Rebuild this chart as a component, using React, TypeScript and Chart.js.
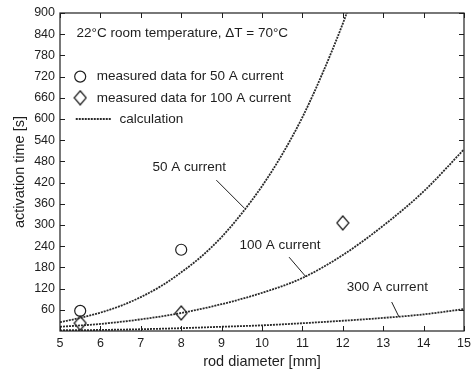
import React, { useEffect, useRef } from "react";
import { Chart, registerables } from "chart.js";
Chart.register(...registerables);

// Calculated curves
const curve50X = [5, 5.5, 6, 6.5, 7, 7.5, 8, 8.5, 9, 9.5, 10, 10.5, 11, 11.5, 12, 12.5];
const curve50Y = [25, 37, 52, 71, 96, 127, 166, 211, 266, 333, 410, 500, 605, 730, 870, 1030];
const curveX = [5, 6, 7, 8, 9, 10, 11, 12, 13, 14, 15];
const curve100Y = [12, 20, 33, 51, 76, 108, 150, 215, 298, 395, 514];
const curve300Y = [2, 3, 5, 8, 12, 16, 22, 29, 37, 47, 62];
// Measured data
const meas50X = [5.5, 8];
const meas50Y = [57, 230];
const meas100X = [5.5, 8, 12];
const meas100Y = [22, 51, 306];
// Ticks
const xTickValues = [5, 6, 7, 8, 9, 10, 11, 12, 13, 14, 15];
const yTickValues = [60, 120, 180, 240, 300, 360, 420, 480, 540, 600, 660, 720, 780, 840, 900];

const FONT = '"Liberation Sans", Arial, sans-serif';
const INK = "#1e1e1e";
const LINE = "#2a2a2a";
const DASH = [2, 1];

function makeDiamond(): HTMLCanvasElement {
  const c = document.createElement("canvas");
  c.width = 14;
  c.height = 16;
  const g = c.getContext("2d")!;
  g.strokeStyle = INK;
  g.lineWidth = 1.2;
  g.beginPath();
  g.moveTo(7, 1);
  g.lineTo(13, 8);
  g.lineTo(7, 15);
  g.lineTo(1, 8);
  g.closePath();
  g.stroke();
  return c;
}

export default function App() {
  const ref = useRef<HTMLCanvasElement | null>(null);

  useEffect(() => {
    document.body.style.margin = "0";
    document.body.style.background = "#fff";
    const diamond = makeDiamond();

    const toXY = (xs: number[], ys: number[]) => xs.map((x, i) => ({ x, y: ys[i] }));

    const overlay = {
      id: "overlay",
      afterDraw(chart: any) {
        const ctx = chart.ctx as CanvasRenderingContext2D;
        const a = chart.chartArea;
        const xs = chart.scales.x;
        const ys = chart.scales.y;
        const px = (v: number) => xs.getPixelForValue(v);
        const py = (v: number) => ys.getPixelForValue(v);
        ctx.save();
        // frame
        ctx.strokeStyle = INK;
        ctx.lineWidth = 1.2;
        ctx.strokeRect(a.left, a.top, a.right - a.left, a.bottom - a.top);
        // inward ticks
        ctx.lineWidth = 1;
        ctx.beginPath();
        xTickValues.forEach((v) => {
          const x = Math.round(px(v)) + 0.5;
          ctx.moveTo(x, a.bottom);
          ctx.lineTo(x, a.bottom - 5);
          ctx.moveTo(x, a.top);
          ctx.lineTo(x, a.top + 5);
        });
        yTickValues.forEach((v) => {
          const y = Math.round(py(v)) + 0.5;
          ctx.moveTo(a.left, y);
          ctx.lineTo(a.left + 5, y);
          ctx.moveTo(a.right, y);
          ctx.lineTo(a.right - 5, y);
        });
        ctx.stroke();

        // texts
        ctx.fillStyle = INK;
        ctx.font = `13.5px ${FONT}`;
        ctx.textBaseline = "middle";
        ctx.textAlign = "left";
        ctx.fillText("22°C room temperature, \u0394T = 70°C", px(5.41), py(843));

        // legend
        ctx.lineWidth = 1.2;
        ctx.beginPath();
        ctx.arc(px(5.5), py(720), 5.5, 0, Math.PI * 2);
        ctx.stroke();
        ctx.fillText("measured data for 50 A current", px(5.91), py(720));
        ctx.drawImage(diamond, px(5.5) - 7, py(660) - 8);
        ctx.fillText("measured data for 100 A current", px(5.91), py(660));
        ctx.strokeStyle = LINE;
        ctx.lineWidth = 1.8;
        ctx.setLineDash(DASH);
        ctx.beginPath();
        ctx.moveTo(px(5.39), py(600));
        ctx.lineTo(px(6.28), py(600));
        ctx.stroke();
        ctx.setLineDash([]);
        ctx.fillText("calculation", px(6.47), py(600));

        // curve labels + leaders
        ctx.fillText("50 A current", px(7.29), py(464));
        ctx.fillText("100 A current", px(9.44), py(243));
        ctx.fillText("300 A current", px(12.1), py(125));
        ctx.strokeStyle = INK;
        ctx.lineWidth = 1;
        ctx.beginPath();
        ctx.moveTo(px(8.87), py(427));
        ctx.lineTo(px(9.56), py(348));
        ctx.moveTo(px(10.67), py(209));
        ctx.lineTo(px(11.09), py(153));
        ctx.moveTo(px(13.21), py(82));
        ctx.lineTo(px(13.39), py(40));
        ctx.stroke();
        ctx.restore();
      },
    };

    const curveStyle = {
      borderColor: LINE,
      borderWidth: 1.8,
      borderDash: DASH,
      pointRadius: 0,
      fill: false,
      cubicInterpolationMode: "monotone" as const,
    };

    const chart = new Chart(ref.current!, {
      type: "line",
      data: {
        datasets: [
          { label: "50 A current", data: toXY(curve50X, curve50Y), ...curveStyle },
          { label: "100 A current", data: toXY(curveX, curve100Y), ...curveStyle },
          { label: "300 A current", data: toXY(curveX, curve300Y), ...curveStyle },
          {
            label: "measured data for 50 A current",
            data: toXY(meas50X, meas50Y),
            showLine: false,
            pointStyle: "circle",
            pointRadius: 5.5,
            pointBorderWidth: 1.2,
            pointBorderColor: INK,
            pointBackgroundColor: "rgba(255,255,255,0)",
          },
          {
            label: "measured data for 100 A current",
            data: toXY(meas100X, meas100Y),
            showLine: false,
            pointStyle: diamond as any,
            pointRadius: 7,
          },
        ],
      },
      options: {
        animation: false,
        responsive: false,
        layout: { padding: { top: 13, right: 6, left: 0, bottom: 0 } },
        plugins: { legend: { display: false }, tooltip: { enabled: false } },
        scales: {
          x: {
            type: "linear",
            min: 5,
            max: 15,
            afterBuildTicks: (axis: any) => {
              axis.ticks = xTickValues.map((v) => ({ value: v }));
            },
            afterFit: (axis: any) => {
              axis.height = 40;
              axis.paddingRight = 0;
              axis.paddingLeft = 0;
            },
            grid: { display: false, drawTicks: false },
            border: { display: false },
            ticks: { color: INK, font: { family: FONT, size: 12.5 }, padding: 5, maxRotation: 0 },
            title: {
              display: true,
              text: "rod diameter [mm]",
              color: INK,
              font: { family: FONT, size: 14.5 },
              padding: { top: 0, bottom: 0 },
            },
          },
          y: {
            type: "linear",
            min: 0,
            max: 900,
            afterBuildTicks: (axis: any) => {
              axis.ticks = yTickValues.map((v) => ({ value: v }));
            },
            afterFit: (axis: any) => {
              axis.width = 60;
              axis.paddingTop = 0;
              axis.paddingBottom = 0;
            },
            grid: { display: false, drawTicks: false },
            border: { display: false },
            ticks: { color: INK, font: { family: FONT, size: 12.5 }, padding: 5 },
            title: {
              display: true,
              text: "activation time [s]",
              color: INK,
              font: { family: FONT, size: 14.5 },
              padding: { top: 11, bottom: 0 },
            },
          },
        },
      },
      plugins: [overlay],
    });
    return () => chart.destroy();
  }, []);

  return <canvas ref={ref} width={472} height={371} style={{ display: "block" }} />;
}
